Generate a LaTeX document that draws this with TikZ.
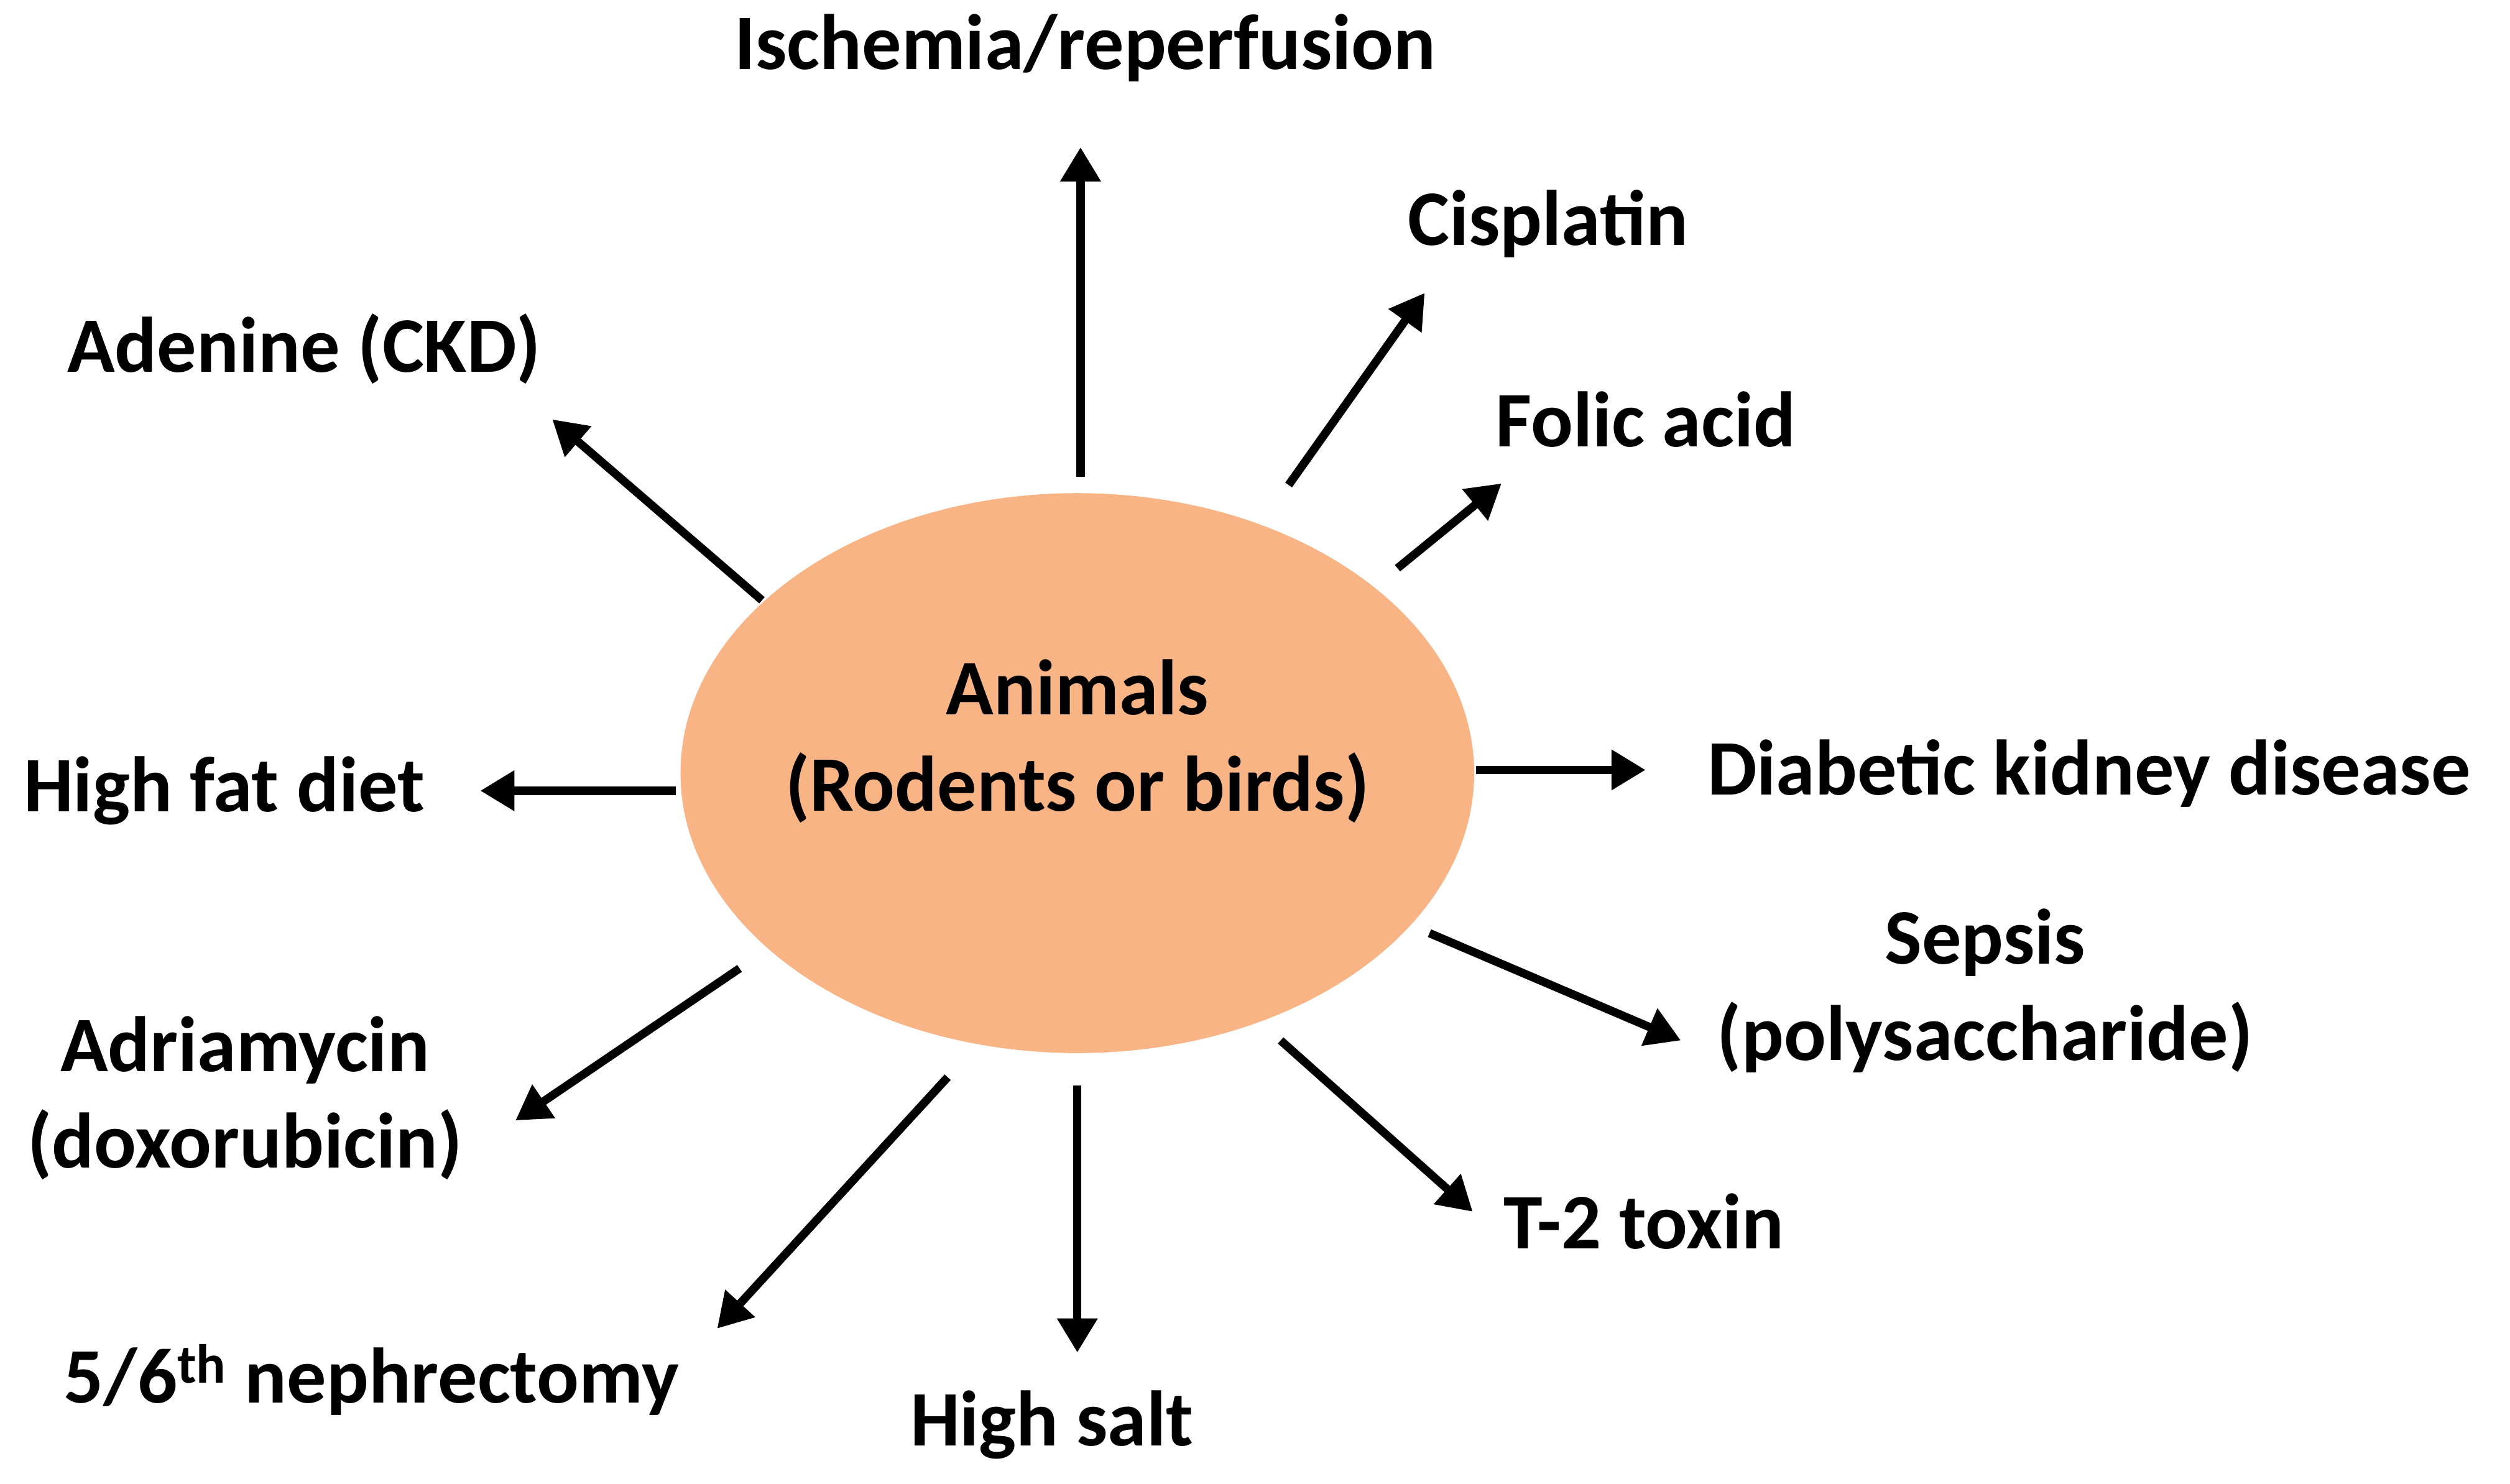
\documentclass[tikz,border=0pt]{standalone}
\usepackage{fontspec}
\setmainfont{Carlito}
\usetikzlibrary{arrows.meta,shapes.geometric}
\begin{document}
\begin{tikzpicture}[x=0.02575cm,y=-0.02575cm,
  lbl/.style={font=\fontsize{36}{44}\selectfont\bfseries,align=center,inner sep=0pt},
  arr/.style={line width=3.8pt,-{Triangle[length=0.55cm,width=0.62cm]}}]
\useasboundingbox (0,0) rectangle (1568,927);
\node[ellipse,fill={rgb,255:red,249;green,180;blue,133},minimum width=496\pgflinewidth,inner sep=0pt,
  minimum width=12.77cm,minimum height=9.01cm] (c) at (673,483) {};
\node[lbl] (an) at (673,463) {Animals\\(Rodents or birds)};
\node[lbl] (isc) at (678,30) {Ischemia/reperfusion};
\node[lbl] (cis) at (967,140) {Cisplatin};
\node[lbl] (fol) at (1028,262) {Folic acid};
\node[lbl] (dia) at (1305,483) {Diabetic kidney disease};
\node[lbl] (sep) at (1240,619) {Sepsis\\(polysaccharide)};
\node[lbl] (t2) at (1027,763) {T-2 toxin};
\node[lbl] (hs) at (657,890) {High salt};
\node[lbl] (neph) at (232,862) {5/6\textsuperscript{th} nephrectomy};
\node[lbl] (adr) at (153,686) {Adriamycin\\(doxorubicin)};
\node[lbl] (hfd) at (140,494) {High fat diet};
\node[lbl] (ade) at (190,218) {Adenine (CKD)};
\foreach \n/\sx/\sy/\ex/\ey in {a/675/298/675/92, b/805/303/890/183, d/873/355/938/302,
  e/922/481/1028/481, f/893/583/1050/650, g/800/650/920/757, h/673/678/673/845,
  i/592/673/448/830, j/462/605/322/700, k/422/494/300/494, l/476/375/345/262}{
  \coordinate (s\n) at (\sx,\sy); \coordinate (t\n) at (\ex,\ey);
  \draw[arr] (s\n) -- (t\n);}
\end{tikzpicture}
\end{document}
